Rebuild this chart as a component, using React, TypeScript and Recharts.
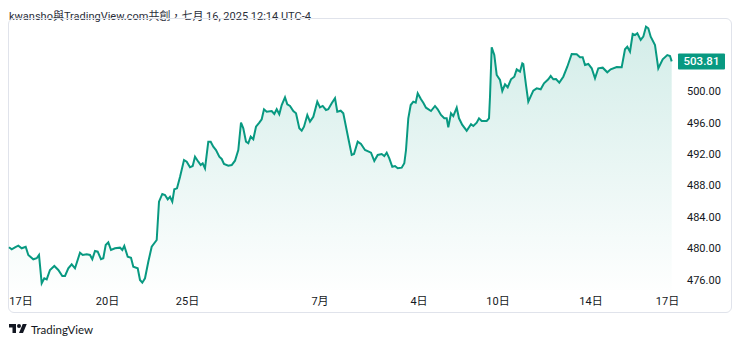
import React from 'react';
import { AreaChart, Area, XAxis, YAxis, ReferenceLine } from 'recharts';

// bar position (time order) and close price
const bars: number[] = [
  0, 2.7, 6, 9.3, 12.7, 16.7, 19.3, 24.3, 27.7, 30, 32.7, 35.3, 37.7, 41, 45.3, 49.3, 53.3, 56, 59.3, 62.7,
  66, 71, 73.7, 77.7, 81, 83.3, 86, 88.7, 92, 94.3, 96.7, 99.3, 102, 106, 111, 113.3, 115.3, 118.7, 122, 124.3,
  128.7, 131, 133.3, 136, 139.3, 142.7, 147.7, 150, 153.3, 156, 158.7, 161, 163.3, 165.3, 168, 171, 175, 177.7, 181, 183.7,
  186, 189.3, 191.7, 193.7, 196, 199.3, 201.7, 204.3, 207, 210.3, 212.7, 215, 219.3, 222.7, 226, 229.3, 232, 234.3, 237, 239.3,
  241.7, 244.3, 247, 250.3, 252.7, 255, 257.7, 262.7, 265.3, 267.7, 270.3, 272.7, 276, 278.3, 281, 284.3, 287, 290.3, 292.7, 295,
  298.3, 301, 304.3, 308.3, 311, 313.7, 317, 319.3, 322.7, 326, 328.3, 331.7, 334.3, 339.3, 342.7, 345, 348.7, 352, 356, 362,
  365.3, 368.7, 372.7, 375.3, 377.7, 380.3, 383.3, 386, 388.7, 392.7, 395.3, 397, 399.3, 401.7, 404.3, 406.7, 408.7, 412, 414.3, 417,
  422, 426, 428.7, 432, 435.3, 437.7, 439.3, 442, 444.3, 447.7, 450, 453.3, 457.7, 462, 464.3, 467.7, 470, 472.7, 477.7, 480,
  481, 482.7, 485.3, 487.7, 491, 493.3, 496, 498.7, 502, 505.3, 507.7, 511, 513.3, 514.3, 517, 519.3, 524.3, 527.7, 531.7, 535,
  539.3, 541.7, 544.3, 547, 550.3, 554.3, 558.3, 562.7, 567.7, 571, 573.7, 576, 579.3, 582.7, 586, 589.3, 593.7, 598.3, 601.7, 607.7,
  612.7, 616, 618.3, 621, 623.7, 626, 628.3, 631.7, 634.3, 637, 639.3, 641.7, 646, 649.3, 653.7, 658.3, 661, 662.7,
];

const closes: number[] = [
  480.13, 479.87, 480.13, 480.33, 480.0, 480.2, 479.15, 478.6, 478.73, 479.15, 475.54, 476.18, 476.05, 477.24, 477.75, 477.24, 476.47, 476.47, 477.45, 477.96,
  477.45, 479.44, 479.15, 479.24, 479.15, 478.6, 479.66, 479.57, 478.6, 478.73, 480.42, 480.76, 479.78, 480.0, 480.08, 479.78, 480.29, 478.93, 478.8, 477.66,
  477.45, 475.96, 475.62, 476.18, 478.29, 480.2, 481.06, 485.94, 486.92, 486.79, 486.24, 486.57, 485.94, 487.52, 487.64, 489.08, 491.25, 491.03, 490.32, 490.48,
  491.67, 491.03, 490.61, 490.83, 490.19, 493.58, 493.58, 492.94, 492.52, 491.67, 491.38, 490.74, 490.52, 490.61, 491.16, 492.52, 496.0, 495.29, 493.58, 493.38,
  494.22, 493.89, 495.49, 496.0, 496.43, 497.71, 497.4, 497.49, 497.11, 497.71, 497.07, 498.25, 499.24, 498.34, 498.13, 497.49, 497.2, 495.29, 494.98, 495.49,
  496.98, 496.13, 496.76, 498.68, 497.96, 498.13, 497.62, 497.71, 498.47, 499.11, 497.4, 497.53, 497.2, 494.01, 491.89, 492.01, 493.58, 493.29, 492.52, 492.18,
  491.12, 491.89, 492.01, 491.76, 492.18, 491.46, 490.39, 490.48, 490.19, 490.27, 490.83, 492.52, 496.56, 498.25, 498.68, 498.55, 499.75, 498.98, 498.55, 497.91,
  497.49, 498.13, 497.71, 496.98, 496.56, 496.56, 495.41, 497.2, 496.85, 497.91, 496.56, 495.71, 494.98, 495.8, 495.58, 496.0, 496.56, 496.22, 496.22, 496.56,
  499.31, 505.61, 504.62, 502.08, 501.44, 500.04, 500.89, 500.51, 501.53, 501.86, 502.8, 502.5, 503.57, 503.48, 500.8, 498.68, 500.08, 500.38, 500.25, 501.02,
  501.53, 501.95, 501.53, 501.57, 501.1, 501.86, 503.13, 504.75, 504.71, 504.33, 504.33, 503.35, 503.48, 502.93, 501.66, 502.93, 503.01, 502.42, 502.8, 503.1,
  503.06, 505.35, 505.68, 505.04, 507.3, 507.17, 507.39, 506.54, 506.96, 508.23, 508.03, 506.96, 505.9, 502.93, 504.08, 504.62, 504.5, 503.81,
];

const dayTicks: number[] = [12, 98.5, 178.5, 311, 410, 489, 582, 658.5];
const dayLabels: string[] = ['17日', '20日', '25日', '7月', '4日', '10日', '14日', '17日'];
const priceTicks: number[] = [476, 480, 484, 488, 492, 496, 500];
const lastPrice = 503.81;

const data = bars.map((t, i) => ({ t, close: closes[i] }));

const GREEN = '#089981';
const FONT = 'Roboto, "Noto Sans CJK TC", sans-serif';

const PriceTag = (props: any) => {
  const vb = props.viewBox;
  if (!vb) return null;
  const x = vb.x + vb.width + 6;
  return (
    <g>
      <rect x={x} y={vb.y - 8} width={47} height={16} fill={GREEN} rx={1} />
      <text x={x + 23.5} y={vb.y} dy="0.35em" textAnchor="middle" fill="#fff" fontSize={11.5} fontWeight={500} fontFamily={FONT}>
        {lastPrice.toFixed(2)}
      </text>
    </g>
  );
};

const App: React.FC = () => {
  return (
    <div style={{ position: 'absolute', left: 0, top: 0, width: 740, height: 345, background: '#fff', fontFamily: FONT }}>
      <div style={{ position: 'absolute', left: 9, top: 7, fontSize: 11, color: '#2a2e39', whiteSpace: 'nowrap' }}>
        kwansho與TradingView.com共創，七月 16, 2025 12:14 UTC-4
      </div>
      <div style={{ position: 'absolute', left: 8, top: 18, width: 722, height: 293, border: '1px solid #e0e3eb', borderRadius: 6 }} />
      <div style={{ position: 'absolute', left: 0, top: 0 }}>
        <AreaChart width={740} height={345} data={data} margin={{ top: 20.65, right: 0, left: 9, bottom: 25.1 }}>
          <defs>
            <linearGradient id="fillGreen" x1="0" y1="0" x2="0" y2="1">
              <stop offset="0%" stopColor={GREEN} stopOpacity={0.3} />
              <stop offset="100%" stopColor={GREEN} stopOpacity={0.01} />
            </linearGradient>
          </defs>
          <XAxis
            dataKey="t"
            type="number"
            domain={[0, 663]}
            ticks={dayTicks}
            tickFormatter={(v: number) => dayLabels[dayTicks.indexOf(v)] ?? ''}
            axisLine={false}
            tickLine={false}
            tickSize={0}
            tickMargin={7}
            height={30}
            interval={0}
            tick={{ fill: '#131722', fontSize: 11, fontFamily: FONT }}
          />
          <YAxis
            orientation="right"
            domain={[474.7, 509]}
            ticks={priceTicks}
            tickFormatter={(v: number) => v.toFixed(2)}
            axisLine={false}
            tickLine={false}
            tickSize={0}
            tickMargin={15}
            width={68}
            allowDataOverflow
            tick={{ fill: '#131722', fontSize: 11, fontFamily: FONT, textAnchor: 'start' }}
          />
          <Area
            type="linear"
            dataKey="close"
            stroke={GREEN}
            strokeWidth={2}
            fill="url(#fillGreen)"
            dot={false}
            activeDot={false}
            isAnimationActive={false}
          />
          <ReferenceLine y={lastPrice} stroke="none" label={(p: any) => <PriceTag viewBox={p.viewBox} />} />
        </AreaChart>
      </div>
      <div style={{ position: 'absolute', left: 9, top: 322, display: 'flex', alignItems: 'center' }}>
        <svg width={18} height={14} viewBox="0 0 36 28">
          <path d="M14 22H7V11H0V4h14v18z" fill="#131722" />
          <circle cx={20} cy={8} r={4} fill="#131722" />
          <path d="M28 22h-8l7.5-18h8L28 22z" fill="#131722" />
        </svg>
        <span style={{ marginLeft: 4, fontSize: 11.5, color: '#131722', fontFamily: 'Lato, sans-serif' }}>TradingView</span>
      </div>
    </div>
  );
};

export default App;
